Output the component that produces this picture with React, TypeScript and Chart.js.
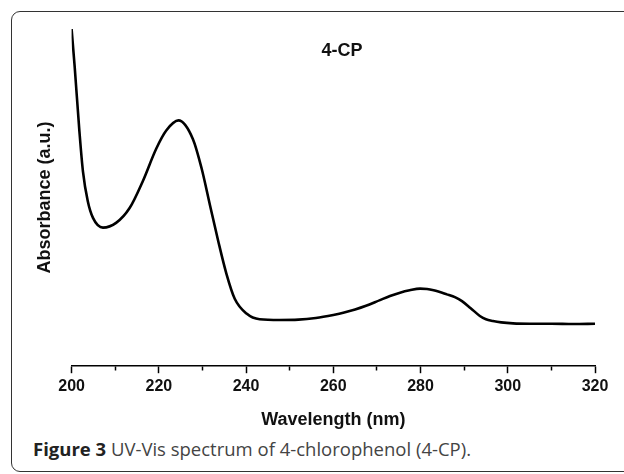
import React, { useEffect, useRef } from "react";
import { Chart, registerables } from "chart.js";

Chart.register(...registerables);

const wavelengths = [
  200, 200.7, 201.8, 202.6, 203.7, 204.9, 207.2, 210.2, 213.3, 216.3, 219.4,
  221.7, 224.5, 227.8, 229.8, 231.7, 233.6, 235.5, 237.4, 240.1, 243.1, 247.7,
  252, 256, 260, 262.5, 265, 267.5, 270.7, 273, 275.3, 277.5, 279.9, 281.5,
  283, 286, 288, 289.5, 291.5, 293.6, 295, 296.6, 298.5, 301.2, 305, 310, 315,
  320,
];
const absorbance = [
  1.0, 0.889, 0.695, 0.578, 0.49, 0.44, 0.411, 0.425, 0.469, 0.548, 0.645,
  0.699, 0.729, 0.674, 0.587, 0.479, 0.372, 0.274, 0.2, 0.156, 0.139, 0.137,
  0.138, 0.143, 0.152, 0.159, 0.168, 0.179, 0.196, 0.208, 0.218, 0.225, 0.23,
  0.229, 0.225, 0.213, 0.204, 0.193, 0.172, 0.149, 0.139, 0.134, 0.13, 0.127,
  0.126, 0.126, 0.125, 0.126,
];
const xMin = 200;
const xMax = 320;
const majorStep = 20;
const minorStep = 10;
const seriesLabel = "4-CP";
const xTitle = "Wavelength (nm)";
const yTitle = "Absorbance (a.u.)";

const FONT = '"Liberation Sans", Arial, sans-serif';

const innerLabel = {
  id: "innerLabel",
  afterDatasetsDraw(chart: any) {
    const { ctx, chartArea, scales } = chart;
    ctx.save();
    ctx.font = `bold 18px ${FONT}`;
    ctx.fillStyle = "#111";
    ctx.textAlign = "center";
    ctx.textBaseline = "middle";
    ctx.fillText(seriesLabel, scales.x.getPixelForValue(262), chartArea.top + 22);
    ctx.restore();
  },
};

export default function App() {
  const ref = useRef<HTMLCanvasElement>(null);

  useEffect(() => {
    if (!ref.current) return;
    const chart = new Chart(ref.current, {
      type: "line",
      data: {
        datasets: [
          {
            label: seriesLabel,
            data: wavelengths.map((w, i) => ({ x: w, y: absorbance[i] })),
            borderColor: "#000",
            borderWidth: 2.6,
            pointRadius: 0,
            fill: false,
            cubicInterpolationMode: "monotone",
          },
        ],
      },
      options: {
        responsive: false,
        animation: false,
        events: [],
        layout: { padding: { left: 34, right: 29, top: 29, bottom: 5 } },
        plugins: {
          legend: { display: false },
          tooltip: { enabled: false },
          title: { display: false },
        },
        scales: {
          x: {
            type: "linear",
            min: xMin,
            max: xMax,
            border: { display: true, color: "#000", width: 1.5 },
            grid: {
              display: true,
              drawOnChartArea: false,
              drawTicks: true,
              tickLength: 7,
              tickColor: "#000",
              tickWidth: 1.5,
              tickBorderDash: (ctx: any) =>
                ctx.tick && ctx.tick.value % majorStep !== 0 ? [4, 100] : [],
            },
            ticks: {
              stepSize: minorStep,
              autoSkip: false,
              maxRotation: 0,
              padding: 4,
              color: "#111",
              font: { family: FONT, size: 16, weight: "bold" },
              callback: (v: any) => (Number(v) % majorStep === 0 ? String(v) : ""),
            },
            title: {
              display: true,
              text: xTitle,
              color: "#111",
              padding: { top: 9, bottom: 0 },
              font: { family: FONT, size: 18, weight: "bold" },
            },
          },
          y: {
            min: 0,
            max: 1,
            border: { display: false },
            grid: { display: false, drawTicks: false },
            ticks: { display: false },
            title: {
              display: true,
              text: yTitle,
              color: "#111",
              padding: { top: 0, bottom: 16 },
              font: { family: FONT, size: 18, weight: "bold" },
            },
          },
        },
      },
      plugins: [innerLabel],
    } as any);
    return () => chart.destroy();
  }, []);

  return (
    <div
      style={{
        position: "fixed",
        left: 0,
        top: 0,
        width: 624,
        height: 474,
        background: "#fff",
        overflow: "hidden",
      }}
    >
      <div
        style={{
          position: "absolute",
          left: 11,
          top: 11,
          width: 700,
          height: 461,
          border: "1.5px solid #333",
          borderRadius: 9,
          boxSizing: "border-box",
        }}
      />
      <canvas
        ref={ref}
        width={624}
        height={436}
        style={{ position: "absolute", left: 0, top: 0 }}
      />
      <div
        style={{
          position: "absolute",
          left: 33,
          top: 436,
          fontFamily: '"Open Sans", sans-serif',
          fontSize: 18.5,
          lineHeight: "25px",
          color: "#444",
          whiteSpace: "nowrap",
        }}
      >
        <span style={{ fontWeight: 700, color: "#222" }}>Figure 3</span> UV-Vis spectrum of
        4-chlorophenol (4-CP).
      </div>
    </div>
  );
}
